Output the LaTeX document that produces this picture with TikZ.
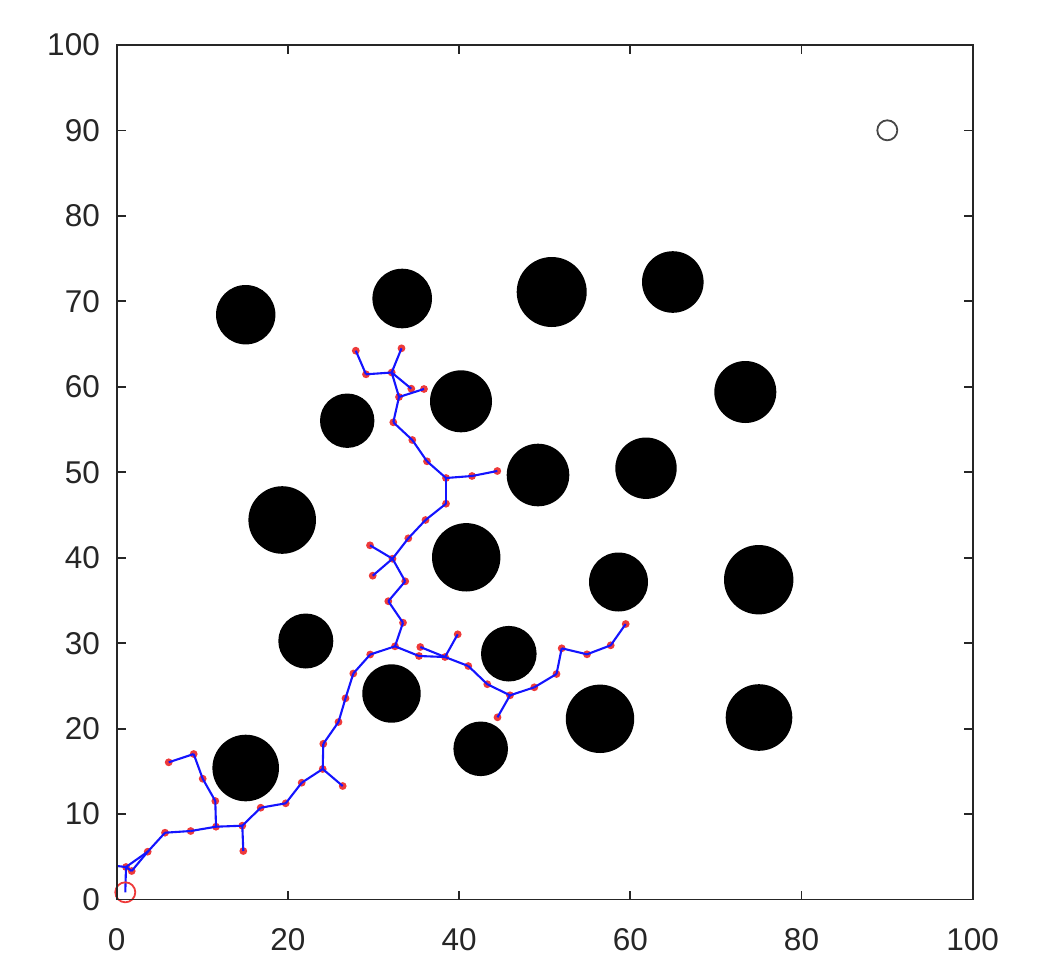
\documentclass[tikz,border=0pt]{standalone}
\usepackage{fontspec}
\setmainfont{Liberation Sans}
\definecolor{axcol}{RGB}{38,38,38}
\definecolor{dotred}{RGB}{238,58,58}
\definecolor{edgeblue}{RGB}{20,20,255}
\begin{document}
\begin{tikzpicture}[x=1pt,y=-1pt,
  axline/.style={draw=axcol, line width=1.8},
  edge/.style={draw=edgeblue, line width=2.1},
  obst/.style={circle, fill=black, inner sep=0pt},
  lbl/.style={text=axcol, inner sep=0pt, font=\fontsize{31.5}{32}\selectfont},
  marker/.style={circle, draw, line width=1.8, inner sep=0pt, minimum size=20}]
\useasboundingbox (0,0) rectangle (1038,964);
% obstacles
\node[obst, minimum size=59.4] (o1) at (245.7,314.7) {};
\node[obst, minimum size=59.6] (o2) at (402.2,298.5) {};
\node[obst, minimum size=70] (o3) at (551.7,292) {};
\node[obst, minimum size=61.6] (o4) at (672.8,282) {};
\node[obst, minimum size=62] (o5) at (745.3,392) {};
\node[obst, minimum size=62] (o6) at (461,401.3) {};
\node[obst, minimum size=54.4] (o7) at (347.2,420.7) {};
\node[obst, minimum size=62.6] (o8) at (538,475) {};
\node[obst, minimum size=61.4] (o9) at (646,468.2) {};
\node[obst, minimum size=67.6] (o10) at (282.2,520) {};
\node[obst, minimum size=68.4] (o11) at (466.2,557.3) {};
\node[obst, minimum size=59] (o12) at (618.5,582) {};
\node[obst, minimum size=69.4] (o13) at (758.7,579.7) {};
\node[obst, minimum size=55] (o14) at (305.8,641) {};
\node[obst, minimum size=58.4] (o15) at (391.5,693.5) {};
\node[obst, minimum size=55.6] (o16) at (508.8,653.7) {};
\node[obst, minimum size=54.6] (o17) at (480.7,748.8) {};
\node[obst, minimum size=66.6] (o18) at (245.7,768) {};
\node[obst, minimum size=68.4] (o19) at (600,718.8) {};
\node[obst, minimum size=66.6] (o20) at (759,717.5) {};
% tree vertices
\coordinate (n1) at (125.3,892.3);
\coordinate (n2) at (126,867);
\coordinate (nL) at (117,866);
\coordinate (n3) at (131.7,871);
\coordinate (n4) at (147.7,851.7);
\coordinate (n5) at (165,832.7);
\coordinate (n6) at (190.7,831);
\coordinate (n7) at (216,826.7);
\coordinate (n8) at (215.3,801);
\coordinate (n9) at (202.7,778.7);
\coordinate (n10) at (193.7,754);
\coordinate (n11) at (168.7,762.3);
\coordinate (n12) at (242.3,825.7);
\coordinate (n13) at (243.3,851);
\coordinate (n14) at (260.7,807.7);
\coordinate (n15) at (285.7,803.3);
\coordinate (n16) at (301.7,782.7);
\coordinate (n17) at (322.7,769);
\coordinate (n18) at (342.7,786);
\coordinate (n19) at (323.3,743.8);
\coordinate (n20) at (338.5,722);
\coordinate (n21) at (345.5,698.3);
\coordinate (n22) at (353.3,673.5);
\coordinate (n23) at (370.2,654.5);
\coordinate (n24) at (395,646.3);
\coordinate (n25) at (403,622.7);
\coordinate (n26) at (388.3,601.2);
\coordinate (n27) at (405.2,581.3);
\coordinate (n28) at (392.5,558.7);
\coordinate (n29) at (370,545.3);
\coordinate (n30) at (372.7,575.7);
\coordinate (n31) at (408.3,538.3);
\coordinate (n32) at (425.5,520);
\coordinate (n33) at (446,503.7);
\coordinate (n34) at (446,478);
\coordinate (n35) at (472,476);
\coordinate (n36) at (497.3,471);
\coordinate (n37) at (427,461.3);
\coordinate (n38) at (412.3,440);
\coordinate (n39) at (393.3,422.3);
\coordinate (n40) at (399,397);
\coordinate (n41) at (424,389);
\coordinate (n42) at (391.7,372.5);
\coordinate (n43) at (411.3,388.7);
\coordinate (n44) at (366,374.3);
\coordinate (n45) at (355.8,350.7);
\coordinate (n46) at (401.5,348.3);
\coordinate (n47) at (420.3,647);
\coordinate (n48) at (419,656);
\coordinate (n49) at (445,657);
\coordinate (n50) at (457.7,634.3);
\coordinate (n51) at (468.3,666);
\coordinate (n52) at (487.3,684.2);
\coordinate (n53) at (510,695.3);
\coordinate (n54) at (497.5,717.3);
\coordinate (n55) at (534.3,687.3);
\coordinate (n56) at (556.5,674);
\coordinate (n57) at (561.7,648.3);
\coordinate (n58) at (587,654.3);
\coordinate (n59) at (610.7,645.3);
\coordinate (n60) at (625.7,624);
% red dots
\foreach \n in {n2,n3,n4,n5,n6,n7,n8,n9,n10,n11,n12,n13,n14,n15,n16,n17,n18,n19,n20,
  n21,n22,n23,n24,n25,n26,n27,n28,n29,n30,n31,n32,n33,n34,n35,n36,n37,n38,n39,n40,
  n41,n42,n43,n44,n45,n46,n47,n48,n49,n50,n51,n52,n53,n54,n55,n56,n57,n58,n59,n60}
  \fill[dotred] (\n) circle (3.9);
% edges
\foreach \a/\b in {n1/n2,n2/nL,n2/n3,n2/n4,n3/n4,n4/n5,n5/n6,n6/n7,n7/n8,n8/n9,n9/n10,
  n10/n11,n7/n12,n12/n13,n12/n14,n14/n15,n15/n16,n16/n17,n17/n18,n17/n19,n19/n20,
  n20/n21,n21/n22,n22/n23,n23/n24,n24/n25,n25/n26,n26/n27,n27/n28,n28/n29,n28/n30,
  n28/n31,n31/n32,n32/n33,n33/n34,n34/n35,n35/n36,n34/n37,n37/n38,n38/n39,n39/n40,
  n40/n41,n40/n42,n42/n43,n42/n44,n44/n45,n42/n46,n24/n48,n48/n49,n47/n49,n49/n50,
  n49/n51,n51/n52,n52/n53,n53/n54,n53/n55,n55/n56,n56/n57,n57/n58,n58/n59,n59/n60}
  \draw[edge] (\a) -- (\b);
% start and goal markers
\node[marker, draw=dotred] (start) at (125.3,892.3) {};
\node[marker, draw=axcol!85] (goal) at (887.3,130.3) {};
% axes box
\draw[axline] (116.7,45) rectangle (972.7,899.5);
\foreach \v in {0,20,40,60,80,100} {
  \draw[axline] ({116.7+8.56*\v},899.5) -- ++(0,-9);
  \draw[axline] ({116.7+8.56*\v},45) -- ++(0,9);
  \node[lbl] (xl\v) at ({116.7+8.56*\v},940) {\v};
}
\foreach \v in {0,10,20,30,40,50,60,70,80,90,100} {
  \draw[axline] (116.7,{899.5-8.545*\v}) -- ++(9,0);
  \draw[axline] (972.7,{899.5-8.545*\v}) -- ++(-9,0);
  \node[lbl, anchor=east] (yl\v) at (100,{899.5-8.545*\v}) {\v};
}
\end{tikzpicture}
\end{document}
